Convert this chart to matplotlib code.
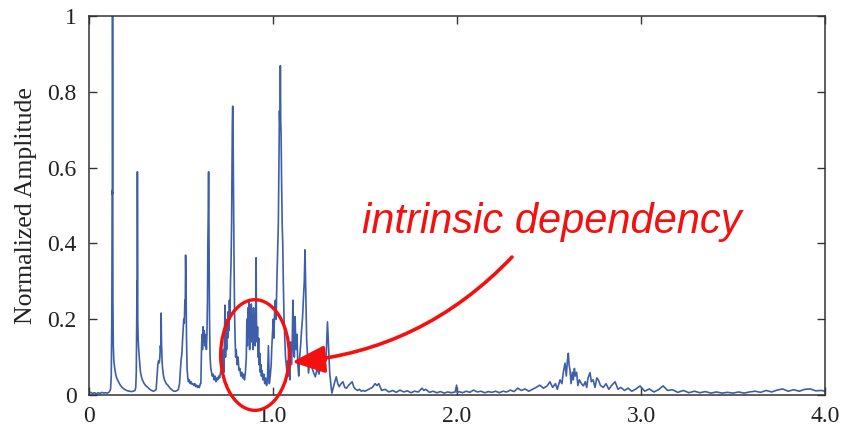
import matplotlib
matplotlib.use("Agg")
import matplotlib.pyplot as plt
from matplotlib.patches import Ellipse, FancyArrowPatch, ArrowStyle
import numpy as np

# ---- data (frequency, normalized amplitude) ----
f_base = [0.00, 0.01, 0.02, 0.03, 0.04, 0.05, 0.06, 0.07, 0.08, 0.09, 0.10, 0.11]
a_base = [0.004, 0.007, 0.004, 0.006, 0.003, 0.006, 0.004, 0.007, 0.005, 0.006, 0.005, 0.008]

f_p1 = [0.117, 0.121, 0.124, 0.126, 0.127, 0.128, 0.129, 0.130, 0.132, 0.135, 0.14, 0.145,
        0.15, 0.16, 0.17, 0.18, 0.19, 0.20, 0.21, 0.22, 0.23, 0.24, 0.25]
a_p1 = [0.015, 0.05, 0.20, 0.54, 0.53, 1.0, 0.60, 0.25, 0.13, 0.09, 0.07, 0.055,
        0.045, 0.035, 0.026, 0.02, 0.016, 0.013, 0.011, 0.01, 0.009, 0.01, 0.012]

f_p2 = [0.254, 0.257, 0.259, 0.261, 0.262, 0.263, 0.264, 0.265, 0.267, 0.27, 0.273, 0.277,
        0.28, 0.285, 0.29, 0.30, 0.31, 0.32, 0.33, 0.34, 0.35, 0.36]
a_p2 = [0.02, 0.06, 0.17, 0.30, 0.26, 0.589, 0.35, 0.2, 0.15, 0.12, 0.10, 0.075,
        0.06, 0.048, 0.04, 0.03, 0.024, 0.02, 0.015, 0.012, 0.01, 0.012]

f_p3 = [0.365, 0.370, 0.374, 0.378, 0.382, 0.385, 0.388, 0.390, 0.392, 0.394, 0.397, 0.40,
        0.405, 0.41, 0.42, 0.43, 0.44, 0.45, 0.46, 0.47, 0.48]
a_p3 = [0.015, 0.05, 0.08, 0.09, 0.085, 0.10, 0.13, 0.12, 0.216, 0.14, 0.09, 0.07,
        0.05, 0.04, 0.03, 0.025, 0.018, 0.014, 0.01, 0.01, 0.012]

f_p4 = [0.486, 0.492, 0.497, 0.50, 0.505, 0.51, 0.515, 0.518, 0.521, 0.523, 0.525, 0.527,
        0.530, 0.533, 0.537, 0.54, 0.545, 0.55, 0.555, 0.56, 0.565, 0.57, 0.575, 0.58,
        0.585, 0.59, 0.595, 0.60, 0.605]
a_p4 = [0.015, 0.03, 0.07, 0.09, 0.11, 0.16, 0.2, 0.19, 0.25, 0.22, 0.369, 0.30,
        0.15, 0.07, 0.045, 0.035, 0.04, 0.03, 0.035, 0.028, 0.03, 0.025, 0.03, 0.022,
        0.026, 0.02, 0.024, 0.02, 0.03]

f_p5 = [0.608, 0.611, 0.614, 0.617, 0.620, 0.623, 0.626, 0.629, 0.632, 0.635, 0.638, 0.641,
        0.644, 0.646, 0.648, 0.650, 0.652, 0.655, 0.658, 0.662, 0.666, 0.67, 0.675, 0.68,
        0.685, 0.69, 0.695, 0.70, 0.705, 0.71, 0.715, 0.72, 0.725, 0.73]
a_p5 = [0.03, 0.11, 0.16, 0.12, 0.18, 0.14, 0.17, 0.13, 0.16, 0.15, 0.12, 0.16,
        0.25, 0.4, 0.48, 0.589, 0.45, 0.2, 0.1, 0.07, 0.06, 0.05, 0.055, 0.04,
        0.05, 0.035, 0.045, 0.04, 0.05, 0.045, 0.06, 0.07, 0.09, 0.12]

f_p6 = [0.733, 0.736, 0.739, 0.742, 0.745, 0.748, 0.751, 0.754, 0.757, 0.760, 0.763, 0.766,
        0.769, 0.772, 0.775, 0.777, 0.779, 0.781, 0.783, 0.785, 0.788, 0.791, 0.794, 0.797,
        0.80, 0.805, 0.81, 0.815, 0.82, 0.825, 0.83, 0.835, 0.84, 0.845, 0.85, 0.855]
a_p6 = [0.06, 0.14, 0.237, 0.10, 0.18, 0.12, 0.20, 0.15, 0.22, 0.17, 0.25, 0.2,
        0.3, 0.35, 0.45, 0.6, 0.72, 0.762, 0.69, 0.55, 0.37, 0.22, 0.15, 0.1,
        0.12, 0.08, 0.1, 0.065, 0.07, 0.05, 0.06, 0.045, 0.055, 0.04, 0.06, 0.1]

f_cluster = [0.858, 0.861, 0.864, 0.867, 0.870, 0.873, 0.876, 0.879, 0.882, 0.885, 0.888,
             0.891, 0.894, 0.897, 0.900, 0.903, 0.906, 0.908, 0.910, 0.913, 0.916, 0.919,
             0.922, 0.925, 0.928, 0.931, 0.934, 0.937, 0.94, 0.945, 0.95, 0.955, 0.96,
             0.965, 0.97, 0.975, 0.98, 0.985, 0.99]
a_cluster = [0.2, 0.13, 0.23, 0.15, 0.25, 0.12, 0.22, 0.16, 0.24, 0.14, 0.21,
             0.12, 0.23, 0.15, 0.2, 0.13, 0.24, 0.362, 0.2, 0.14, 0.18, 0.1,
             0.15, 0.08, 0.11, 0.06, 0.08, 0.05, 0.065, 0.04, 0.055, 0.03, 0.045,
             0.025, 0.04, 0.13, 0.03, 0.05, 0.08]

f_p7 = [0.993, 0.997, 1.001, 1.005, 1.009, 1.013, 1.017, 1.021, 1.025, 1.029, 1.032, 1.035,
        1.038, 1.040, 1.042, 1.044, 1.047, 1.050, 1.053, 1.056, 1.060, 1.064, 1.068, 1.072,
        1.076, 1.080, 1.084, 1.088, 1.092]
a_p7 = [0.12, 0.16, 0.2, 0.15, 0.22, 0.25, 0.2, 0.3, 0.37, 0.45, 0.6, 0.75,
        0.7, 0.869, 0.72, 0.69, 0.55, 0.45, 0.4, 0.3, 0.2, 0.15, 0.1, 0.08,
        0.06, 0.09, 0.05, 0.07, 0.04]

f_p8 = [1.096, 1.100, 1.104, 1.108, 1.112, 1.116, 1.120, 1.125, 1.130, 1.135, 1.140, 1.145,
        1.150, 1.155, 1.160, 1.165, 1.170, 1.174, 1.178, 1.183, 1.188, 1.193, 1.20, 1.21,
        1.22, 1.23, 1.24, 1.25, 1.26, 1.27, 1.28, 1.288, 1.296, 1.302, 1.308, 1.314, 1.32,
        1.328, 1.336, 1.344, 1.352, 1.36, 1.37, 1.38, 1.39, 1.40, 1.41, 1.42, 1.43, 1.44,
        1.45, 1.46, 1.47, 1.48, 1.49, 1.50]
a_p8 = [0.14, 0.08, 0.12, 0.25, 0.13, 0.1, 0.207, 0.12, 0.16, 0.08, 0.05, 0.1,
        0.13, 0.17, 0.2, 0.25, 0.3, 0.383, 0.277, 0.145, 0.1, 0.058, 0.09, 0.074,
        0.06, 0.048, 0.07, 0.055, 0.084, 0.07, 0.1, 0.09, 0.193, 0.127, 0.06, 0.03, 0.005,
        0.02, 0.035, 0.048, 0.03, 0.022, 0.03, 0.035, 0.02, 0.018, 0.025, 0.03, 0.035, 0.02,
        0.015, 0.012, 0.015, 0.01, 0.012, 0.01]

f_mid = [1.52, 1.54, 1.555, 1.565, 1.575, 1.59, 1.61, 1.63, 1.65, 1.67, 1.69, 1.71, 1.73,
         1.75, 1.77, 1.79, 1.81, 1.82, 1.83, 1.85, 1.87, 1.89, 1.91, 1.93, 1.95, 1.97, 1.99,
         1.998, 2.001, 2.01, 2.03, 2.05, 2.07, 2.09, 2.11, 2.13, 2.15, 2.17, 2.19, 2.21, 2.23,
         2.25, 2.27, 2.29, 2.31, 2.33, 2.35, 2.37, 2.39, 2.41, 2.43, 2.45, 2.47, 2.49]
a_mid = [0.015, 0.02, 0.03, 0.025, 0.03, 0.012, 0.015, 0.008, 0.012, 0.007, 0.013, 0.008, 0.011,
         0.006, 0.01, 0.008, 0.018, 0.012, 0.015, 0.007, 0.01, 0.006, 0.009, 0.005, 0.008, 0.006,
         0.008, 0.026, 0.006, 0.009, 0.006, 0.01, 0.007, 0.013, 0.008, 0.01, 0.006, 0.009, 0.007,
         0.01, 0.006, 0.01, 0.008, 0.013, 0.009, 0.018, 0.012, 0.016, 0.01, 0.015, 0.02, 0.026,
         0.018, 0.024]

f_p9 = [2.505, 2.52, 2.535, 2.545, 2.56, 2.57, 2.578, 2.587, 2.594, 2.600, 2.605, 2.609, 2.614,
        2.62, 2.627, 2.632, 2.638, 2.643, 2.65, 2.657, 2.665, 2.676, 2.687, 2.697, 2.705, 2.712,
        2.718, 2.723, 2.73, 2.74, 2.75, 2.76, 2.768, 2.78, 2.795, 2.81, 2.825, 2.84, 2.859,
        2.875, 2.89, 2.91, 2.93, 2.95]
a_p9 = [0.035, 0.02, 0.03, 0.015, 0.04, 0.03, 0.06, 0.084, 0.05, 0.09, 0.11, 0.08, 0.066,
        0.03, 0.06, 0.04, 0.07, 0.05, 0.06, 0.025, 0.04, 0.03, 0.024, 0.035, 0.02, 0.045,
        0.053, 0.059, 0.035, 0.04, 0.02, 0.045, 0.04, 0.025, 0.02, 0.03, 0.015, 0.025, 0.035,
        0.015, 0.02, 0.012, 0.018, 0.01]

f_tail = [2.97, 2.995, 3.02, 3.045, 3.07, 3.095, 3.12, 3.145, 3.17, 3.2, 3.23, 3.26, 3.29,
          3.32, 3.35, 3.38, 3.41, 3.44, 3.47, 3.5, 3.53, 3.56, 3.59, 3.62, 3.65, 3.68, 3.71,
          3.74, 3.77, 3.8, 3.83, 3.86, 3.89, 3.92, 3.95, 3.98, 4.0]
a_tail = [0.015, 0.024, 0.01, 0.016, 0.008, 0.014, 0.024, 0.012, 0.014, 0.007, 0.012, 0.006,
          0.01, 0.006, 0.009, 0.005, 0.008, 0.005, 0.007, 0.005, 0.008, 0.005, 0.008, 0.01,
          0.007, 0.012, 0.008, 0.013, 0.016, 0.01, 0.014, 0.01, 0.015, 0.016, 0.011, 0.012, 0.01]

x_ticks = [0, 1, 2, 3, 4]
x_ticklabels = ["0", "1.0", "2.0", "3.0", "4.0"]
y_ticks = [0, 0.2, 0.4, 0.6, 0.8, 1.0]
y_ticklabels = ["0", "0.2", "0.4", "0.6", "0.8", "1"]
annotation_text = "intrinsic dependency"
y_label = "Normalized Amplitude"

freq = np.array(f_base + f_p1 + f_p2 + f_p3 + f_p4 + f_p5 + f_p6 + f_cluster + f_p7 + f_p8
                + f_mid + f_p9 + f_tail)
amp = np.array(a_base + a_p1 + a_p2 + a_p3 + a_p4 + a_p5 + a_p6 + a_cluster + a_p7 + a_p8
               + a_mid + a_p9 + a_tail)

# ---- figure ----
fig = plt.figure(figsize=(8.42, 4.32), dpi=100)
ax = fig.add_axes([89 / 842, 37 / 432, (825 - 89) / 842, (395 - 16) / 432])

ax.plot(freq, amp, color="#3d5ea8", linewidth=1.2, zorder=2)

ax.set_xlim(0, 4.0)
ax.set_ylim(0, 1.0)
ax.set_xticks(x_ticks)
ax.set_xticklabels(x_ticklabels)
ax.set_yticks(y_ticks)
ax.set_yticklabels(y_ticklabels)

serif = ["Liberation Serif", "DejaVu Serif"]
for lab in ax.get_xticklabels() + ax.get_yticklabels():
    lab.set_fontfamily(serif)
    lab.set_fontsize(17)
    lab.set_color("#222222")

ax.tick_params(direction="in", length=6, width=1.0, top=True, right=True,
               color="#333333", pad=8)
ax.tick_params(axis="y", pad=9)
for sp in ax.spines.values():
    sp.set_color("#333333")
    sp.set_linewidth(1.1)

ax.set_ylabel(y_label, family=serif, fontsize=18.5, color="#222222", labelpad=7)

red = "#f51010"
# ellipse around the cluster
ell = Ellipse((0.902, 0.1055), width=0.373, height=0.292, fill=False,
              edgecolor=red, linewidth=2.4, clip_on=False, zorder=5)
ax.add_patch(ell)

# curved arrow
arr = FancyArrowPatch(posA=(2.299, 0.364), posB=(1.103, 0.087),
                      connectionstyle="arc3,rad=-0.19",
                      arrowstyle=ArrowStyle("-|>", head_length=1.0, head_width=0.42),
                      mutation_scale=20, color=red, linewidth=2.6,
                      shrinkA=0, shrinkB=0, clip_on=False, zorder=6)
ax.add_patch(arr)

ax.text(1.484, 0.427, annotation_text, color=red, fontsize=30, style="italic",
        family=["Liberation Sans", "DejaVu Sans"], ha="left", va="baseline", zorder=7)

fig.savefig("out.png", dpi=100)
